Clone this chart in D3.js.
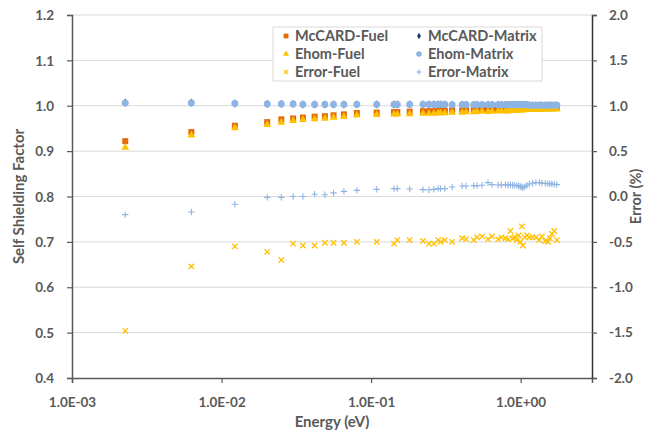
<!DOCTYPE html>
<html>
<head>
<meta charset="utf-8">
<script src="https://cdn.jsdelivr.net/npm/d3@7"></script>
<style>
  body { margin: 0; background: #fff; }
  svg text { font-family: Lato, "Open Sans", sans-serif; font-weight: bold; fill: #595959; }
</style>
</head>
<body>
<svg id="chart" width="651" height="431"></svg>
<script>
// ---------- datos ----------
const energia = [0.00227, 0.00628, 0.01227, 0.0202, 0.0251, 0.0301, 0.0350, 0.0419, 0.0491, 0.0561,
  0.0658, 0.0803, 0.109, 0.1423, 0.1497, 0.1811, 0.2222, 0.2436, 0.263, 0.281,
  0.2915, 0.3113, 0.3483, 0.4063, 0.4319, 0.486, 0.511, 0.552, 0.605, 0.644,
  0.706, 0.743, 0.791, 0.823, 0.854, 0.884, 0.912, 0.945, 0.970, 0.995,
  1.020, 1.036, 1.063, 1.102, 1.143, 1.202, 1.265, 1.333, 1.387, 1.461,
  1.521, 1.568, 1.617, 1.677, 1.746];

const mccardFuel = [0.922, 0.942, 0.956, 0.964, 0.970, 0.972, 0.974, 0.976, 0.977, 0.979,
  0.981, 0.984, 0.985, 0.986, 0.986, 0.987, 0.988, 0.988, 0.988, 0.989,
  0.989, 0.989, 0.990, 0.990, 0.991, 0.991, 0.991, 0.992, 0.992, 0.992,
  0.993, 0.993, 0.993, 0.993, 0.994, 0.994, 0.994, 0.994, 0.995, 0.995,
  0.995, 0.995, 0.995, 0.995, 0.996, 0.996, 0.996, 0.996, 0.996, 0.997,
  0.997, 0.997, 0.997, 0.997, 0.997];

const ehomFuel = [0.908, 0.935, 0.951, 0.958, 0.963, 0.967, 0.969, 0.971, 0.972, 0.974,
  0.976, 0.979, 0.980, 0.981, 0.981, 0.982, 0.983, 0.983, 0.983, 0.984,
  0.984, 0.984, 0.985, 0.985, 0.986, 0.986, 0.987, 0.988, 0.987, 0.988,
  0.988, 0.989, 0.988, 0.988, 0.990, 0.989, 0.990, 0.989, 0.991, 0.990,
  0.992, 0.990, 0.991, 0.991, 0.991, 0.991, 0.991, 0.991, 0.992, 0.992,
  0.992, 0.992, 0.993, 0.993, 0.992];

const mccardMatrix = [1.007, 1.007, 1.005, 1.004, 1.004, 1.004, 1.003, 1.003, 1.003, 1.003,
  1.003, 1.003, 1.003, 1.003, 1.003, 1.003, 1.003, 1.003, 1.003, 1.003,
  1.003, 1.003, 1.002, 1.002, 1.002, 1.002, 1.002, 1.002, 1.002, 1.002,
  1.002, 1.002, 1.002, 1.002, 1.002, 1.002, 1.002, 1.002, 1.002, 1.002,
  1.002, 1.002, 1.002, 1.002, 1.001, 1.001, 1.001, 1.001, 1.001, 1.001,
  1.001, 1.001, 1.001, 1.001, 1.001];

const ehomMatrix = [1.006, 1.006, 1.005, 1.004, 1.004, 1.004, 1.003, 1.003, 1.003, 1.003,
  1.003, 1.003, 1.003, 1.003, 1.003, 1.003, 1.003, 1.003, 1.003, 1.003,
  1.003, 1.003, 1.002, 1.002, 1.002, 1.002, 1.002, 1.002, 1.002, 1.002,
  1.002, 1.002, 1.002, 1.002, 1.002, 1.002, 1.002, 1.002, 1.002, 1.002,
  1.002, 1.002, 1.002, 1.002, 1.001, 1.001, 1.001, 1.001, 1.001, 1.001,
  1.001, 1.001, 1.001, 1.001, 1.001];

const errorFuel = [-1.48, -0.77, -0.55, -0.61, -0.70, -0.52, -0.54, -0.54, -0.51, -0.51,
  -0.51, -0.50, -0.50, -0.52, -0.48, -0.48, -0.49, -0.52, -0.52, -0.48,
  -0.50, -0.48, -0.50, -0.46, -0.47, -0.48, -0.45, -0.44, -0.47, -0.44,
  -0.47, -0.45, -0.46, -0.47, -0.38, -0.46, -0.45, -0.48, -0.43, -0.50,
  -0.33, -0.54, -0.45, -0.43, -0.45, -0.45, -0.45, -0.48, -0.44, -0.49,
  -0.50, -0.46, -0.41, -0.38, -0.48];

const errorMatrix = [-0.20, -0.17, -0.086, -0.01, -0.01, 0.00, 0.00, 0.024, 0.02, 0.04,
  0.057, 0.068, 0.079, 0.087, 0.087, 0.083, 0.076, 0.072, 0.079, 0.087,
  0.087, 0.087, 0.105, 0.116, 0.116, 0.12, 0.12, 0.124, 0.153, 0.131,
  0.127, 0.127, 0.131, 0.127, 0.127, 0.124, 0.124, 0.12, 0.116, 0.11,
  0.105, 0.094, 0.109, 0.124, 0.138, 0.146, 0.153, 0.153, 0.146, 0.146,
  0.142, 0.142, 0.138, 0.135, 0.131];

const ticksX = [0.001, 0.01, 0.1, 1];
const ticksIzq = [0.4, 0.5, 0.6, 0.7, 0.8, 0.9, 1.0, 1.1, 1.2];
const ticksDer = [-2.0, -1.5, -1.0, -0.5, 0.0, 0.5, 1.0, 1.5, 2.0];

// ---------- geometría ----------
const M = { left: 72, right: 592, top: 15, bottom: 378 };
const svg = d3.select("#chart");

const x = d3.scaleLog().domain([0.001, 3]).range([M.left, M.right]);
const yIzq = d3.scaleLinear().domain([0.4, 1.2]).range([M.bottom, M.top]);
const yDer = d3.scaleLinear().domain([-2, 2]).range([M.bottom, M.top]);

const GRIS = "#595959";

// rejilla
svg.append("g")
  .selectAll("line")
  .data(ticksIzq.slice(1))
  .enter()
  .append("line")
  .attr("x1", M.left).attr("x2", M.right)
  .attr("y1", d => yIzq(d)).attr("y2", d => yIzq(d))
  .attr("stroke", "#d9d9d9").attr("stroke-width", 1);

// ejes
const ejeX = svg.append("g")
  .attr("transform", `translate(0,${M.bottom})`)
  .call(d3.axisBottom(x).tickValues(ticksX).tickSize(5).tickPadding(14)
    .tickFormat(d => d3.format(".1e")(d).replace("e", "E").replace(/E([+-])(\d)$/, "E$10$2")));

const ejeIzq = svg.append("g")
  .attr("transform", `translate(${M.left},0)`)
  .call(d3.axisLeft(yIzq).tickValues(ticksIzq).tickSize(5).tickPadding(13).tickFormat(d3.format(".1f")));

const ejeDer = svg.append("g")
  .attr("transform", `translate(${M.right},0)`)
  .call(d3.axisRight(yDer).tickValues(ticksDer).tickSize(5).tickPadding(12).tickFormat(d3.format(".1f")));

[ejeX, ejeIzq, ejeDer].forEach(g => {
  g.select(".domain").attr("stroke", GRIS).attr("stroke-width", 1.5);
  g.selectAll(".tick line").attr("stroke", GRIS).attr("stroke-width", 1.2);
  g.selectAll(".tick text")
    .attr("fill", GRIS)
    .style("font-size", "13.5px");
});
ejeDer.select(".domain").attr("stroke", "#333");
ejeDer.selectAll(".tick text").text(d => d3.format(".1f")(d).replace("−", "-"));
ejeIzq.selectAll(".tick text").attr("dy", "0.35em");

// títulos
svg.append("text")
  .attr("transform", `translate(19,${(M.top + M.bottom) / 2}) rotate(-90)`)
  .attr("text-anchor", "middle").attr("dy", "0.35em")
  .style("font-size", "15px")
  .text("Self Shielding Factor");

svg.append("text")
  .attr("transform", `translate(636,${(M.top + M.bottom) / 2}) rotate(-90)`)
  .attr("text-anchor", "middle").attr("dy", "0.35em")
  .style("font-size", "14.5px")
  .text("Error (%)");

svg.append("text")
  .attr("x", (M.left + M.right) / 2).attr("y", 422)
  .attr("text-anchor", "middle").attr("dy", "0.35em")
  .style("font-size", "15px")
  .text("Energy (eV)");

// ---------- marcadores ----------
const pathX = s => `M${-s},${-s}L${s},${s}M${-s},${s}L${s},${-s}`;
const pathPlus = s => `M${-s},0L${s},0M0,${-s}L0,${s}`;

const series = [
  { nombre: "McCARD-Fuel", vals: mccardFuel, y: yIzq, tipo: "square", color: "#e36c0a" },
  { nombre: "McCARD-Matrix", vals: mccardMatrix, y: yIzq, tipo: "diamond", color: "#1f3864" },
  { nombre: "Ehom-Fuel", vals: ehomFuel, y: yIzq, tipo: "triangle", color: "#ffc000" },
  { nombre: "Ehom-Matrix", vals: ehomMatrix, y: yIzq, tipo: "circle", color: "#8eb4e3" },
  { nombre: "Error-Fuel", vals: errorFuel, y: yDer, tipo: "x", color: "#ffc000" },
  { nombre: "Error-Matrix", vals: errorMatrix, y: yDer, tipo: "plus", color: "#8eb4e3" },
];

function marca(g, tipo, color, escala = 1) {
  if (tipo === "x") {
    g.append("path").attr("d", pathX(2.7 * escala)).attr("stroke", color).attr("stroke-width", 1.3).attr("fill", "none");
  } else if (tipo === "plus") {
    g.append("path").attr("d", pathPlus(3.2 * escala)).attr("stroke", color).attr("stroke-width", 1.1).attr("fill", "none");
  } else {
    const sym = {
      square: [d3.symbolSquare, 36],
      diamond: [d3.symbolDiamond, 20],
      triangle: [d3.symbolTriangle, 26],
      circle: [d3.symbolCircle, 38],
    }[tipo];
    g.append("path").attr("d", d3.symbol(sym[0], sym[1] * escala * escala)()).attr("fill", color);
  }
}

series.forEach(s => {
  const capa = svg.append("g").attr("class", "serie");
  s.vals.forEach((v, i) => {
    const g = capa.append("g")
      .attr("transform", `translate(${x(energia[i])},${s.y(v)})`);
    marca(g, s.tipo, s.color);
  });
});

// ---------- leyenda ----------
const ley = svg.append("g").attr("transform", "translate(273,27)");
ley.append("rect")
  .attr("width", 269).attr("height", 54)
  .attr("fill", "#fff").attr("stroke", "#d9d9d9");

series.forEach((s, i) => {
  const col = i % 2, fila = Math.floor(i / 2);
  const gy = ley.append("g").attr("transform", `translate(${col * 133},${9 + fila * 18})`);
  const m = gy.append("g").attr("transform", "translate(13,0)");
  marca(m, s.tipo, s.color, 0.8);
  gy.append("text")
    .attr("x", 22).attr("y", 0).attr("dy", "0.35em")
    .style("font-size", "14.5px")
    .text(s.nombre);
});
</script>
</body>
</html>
